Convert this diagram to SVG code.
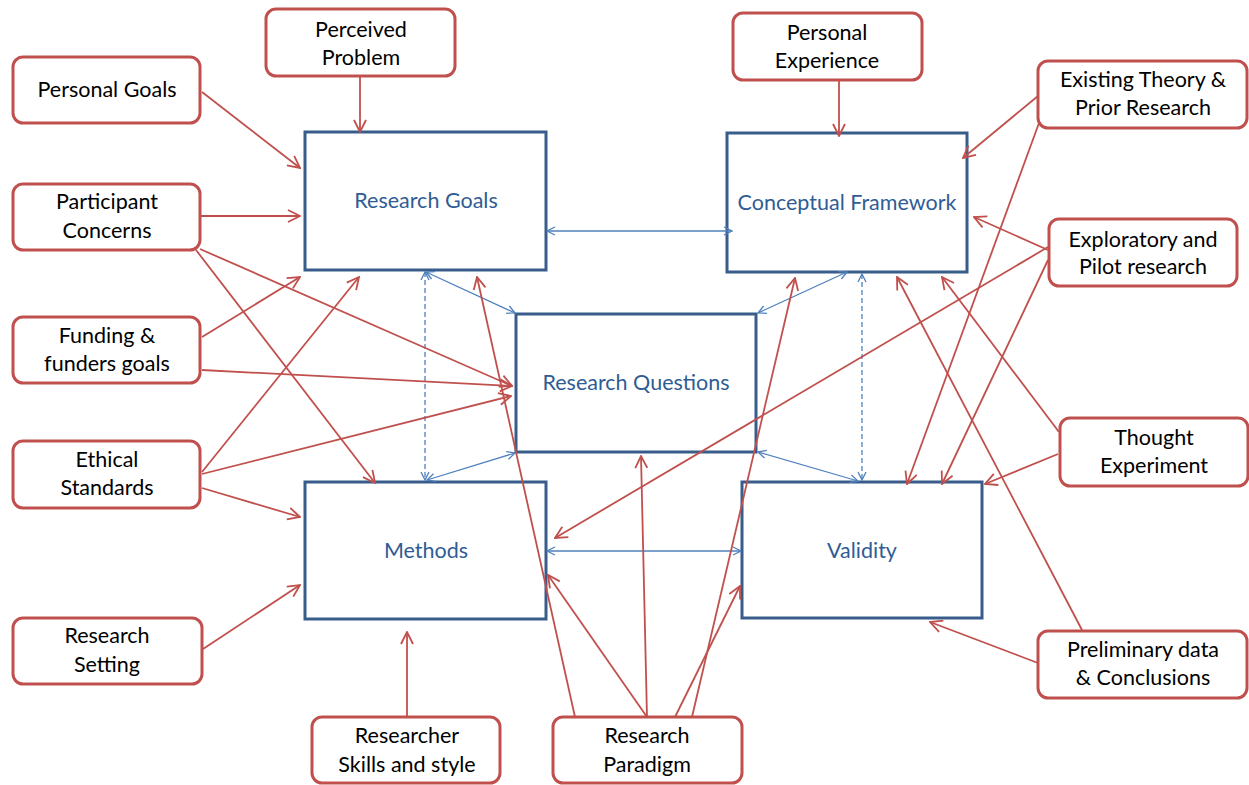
<svg xmlns="http://www.w3.org/2000/svg" width="1249" height="785" viewBox="0 0 1249 785">
  <style>
    .core rect { fill: #ffffff; stroke: #385D8A; stroke-width: 3; }
    .core text { font-family: Lato, "Liberation Sans", sans-serif; font-size: 21.5px; fill: #2F5C94; text-anchor: middle; }
    .src rect { fill: #ffffff; stroke: #C0504D; stroke-width: 3; }
    .src text { font-family: Lato, "Liberation Sans", sans-serif; font-size: 21.5px; fill: #000000; text-anchor: middle; }
    .red { stroke: #C0504D; stroke-width: 1.8; fill: none; marker-end: url(#redArrow); }
    .blue { stroke: #4F81BD; stroke-width: 1.3; fill: none; marker-start: url(#blueArrow); marker-end: url(#blueArrow); }
    .dash { stroke-dasharray: 5 3; }
  </style>
  <defs>
    <marker id="redArrow" viewBox="0 0 14 14" refX="13" refY="7" markerWidth="14" markerHeight="14" orient="auto" markerUnits="userSpaceOnUse">
      <path d="M1,1 L13,7 L1,13" fill="none" stroke="#C0504D" stroke-width="1.8"/>
    </marker>
    <marker id="blueArrow" viewBox="0 0 10 10" refX="9" refY="5" markerWidth="10" markerHeight="10" orient="auto-start-reverse" markerUnits="userSpaceOnUse">
      <path d="M1,1 L9,5 L1,9" fill="none" stroke="#4F81BD" stroke-width="1.3"/>
    </marker>
  </defs>
  <rect width="1249" height="785" fill="#ffffff"/>

  <!-- central components -->
  <g id="research-goals" class="core">
    <rect x="305" y="132" width="241" height="138"/>
    <text x="426" y="208">Research Goals</text>
  </g>
  <g id="conceptual-framework" class="core">
    <rect x="727" y="133" width="240" height="139"/>
    <text x="847" y="210">Conceptual Framework</text>
  </g>
  <g id="research-questions" class="core">
    <rect x="516" y="314" width="240" height="138"/>
    <text x="636" y="390">Research Questions</text>
  </g>
  <g id="methods" class="core">
    <rect x="305" y="482" width="241" height="137"/>
    <text x="426" y="558">Methods</text>
  </g>
  <g id="validity" class="core">
    <rect x="742" y="482" width="240" height="136"/>
    <text x="862" y="558">Validity</text>
  </g>

  <!-- contextual factors -->
  <g id="perceived-problem" class="src">
    <rect x="266" y="9" width="189" height="67" rx="10"/>
    <text x="361" y="37">Perceived</text>
    <text x="361" y="65">Problem</text>
  </g>
  <g id="personal-goals" class="src">
    <rect x="13" y="57" width="187" height="66" rx="10"/>
    <text x="107" y="97">Personal Goals</text>
  </g>
  <g id="personal-experience" class="src">
    <rect x="733" y="13" width="189" height="67" rx="10"/>
    <text x="827" y="40">Personal</text>
    <text x="827" y="68">Experience</text>
  </g>
  <g id="existing-theory" class="src">
    <rect x="1038" y="61" width="209" height="67" rx="10"/>
    <text x="1143" y="87">Existing Theory &amp;</text>
    <text x="1143" y="115">Prior Research</text>
  </g>
  <g id="participant-concerns" class="src">
    <rect x="13" y="184" width="187" height="66" rx="10"/>
    <text x="107" y="209">Participant</text>
    <text x="107" y="238">Concerns</text>
  </g>
  <g id="exploratory-research" class="src">
    <rect x="1049" y="219" width="188" height="67" rx="10"/>
    <text x="1143" y="247">Exploratory and</text>
    <text x="1143" y="274">Pilot research</text>
  </g>
  <g id="funding" class="src">
    <rect x="13" y="317" width="187" height="66" rx="10"/>
    <text x="107" y="343">Funding &amp;</text>
    <text x="107" y="371">funders goals</text>
  </g>
  <g id="ethical-standards" class="src">
    <rect x="13" y="441" width="187" height="67" rx="10"/>
    <text x="107" y="467">Ethical</text>
    <text x="107" y="495">Standards</text>
  </g>
  <g id="thought-experiment" class="src">
    <rect x="1060" y="418" width="188" height="68" rx="10"/>
    <text x="1154" y="445">Thought</text>
    <text x="1154" y="473">Experiment</text>
  </g>
  <g id="research-setting" class="src">
    <rect x="13" y="618" width="189" height="66" rx="10"/>
    <text x="107" y="643">Research</text>
    <text x="107" y="672">Setting</text>
  </g>
  <g id="preliminary-data" class="src">
    <rect x="1038" y="631" width="209" height="67" rx="10"/>
    <text x="1143" y="657">Preliminary data</text>
    <text x="1143" y="685">&amp; Conclusions</text>
  </g>
  <g id="researcher-skills" class="src">
    <rect x="312" y="717" width="188" height="66" rx="10"/>
    <text x="407" y="743">Researcher</text>
    <text x="407" y="772">Skills and style</text>
  </g>
  <g id="research-paradigm" class="src">
    <rect x="553" y="717" width="189" height="66" rx="10"/>
    <text x="647" y="743">Research</text>
    <text x="647" y="772">Paradigm</text>
  </g>

  <!-- connectors -->
  <g id="connectors">
    <!-- links between the central components -->
    <line class="blue" x1="547" y1="231" x2="732" y2="231"/>
    <line class="blue" x1="426" y1="272" x2="515" y2="313"/>
    <line class="blue dash" x1="425" y1="272" x2="425" y2="480"/>
    <line class="blue" x1="515" y1="453" x2="427" y2="480"/>
    <line class="blue" x1="847" y1="272" x2="758" y2="313"/>
    <line class="blue dash" x1="862" y1="274" x2="862" y2="480"/>
    <line class="blue" x1="758" y1="452" x2="858" y2="481"/>
    <line class="blue" x1="547" y1="551" x2="741" y2="551"/>

    <!-- influences from the surrounding factors -->
    <line class="red" x1="360" y1="76" x2="360" y2="132"/>
    <line class="red" x1="202" y1="92" x2="300" y2="168"/>
    <line class="red" x1="200" y1="216" x2="300" y2="216"/>
    <line class="red" x1="200" y1="249" x2="512" y2="386"/>
    <line class="red" x1="196" y1="250" x2="375" y2="483"/>
    <line class="red" x1="202" y1="337" x2="300" y2="277"/>
    <line class="red" x1="202" y1="370" x2="512" y2="386"/>
    <line class="red" x1="202" y1="472" x2="359" y2="277"/>
    <line class="red" x1="202" y1="474" x2="511" y2="396"/>
    <line class="red" x1="202" y1="488" x2="300" y2="517"/>
    <line class="red" x1="203" y1="649" x2="300" y2="585"/>
    <line class="red" x1="407" y1="717" x2="407" y2="632"/>
    <line class="red" x1="575" y1="717" x2="477" y2="277"/>
    <line class="red" x1="647" y1="717" x2="548" y2="575"/>
    <line class="red" x1="647" y1="717" x2="641" y2="456"/>
    <line class="red" x1="675" y1="717" x2="740" y2="586"/>
    <line class="red" x1="692" y1="717" x2="795" y2="278"/>
    <line class="red" x1="839" y1="80" x2="839" y2="136"/>
    <line class="red" x1="1038" y1="96" x2="963" y2="158"/>
    <line class="red" x1="1039" y1="123" x2="907" y2="484"/>
    <line class="red" x1="1048" y1="250" x2="974" y2="217"/>
    <line class="red" x1="1048" y1="247" x2="555" y2="538"/>
    <line class="red" x1="1048" y1="260" x2="942" y2="484"/>
    <line class="red" x1="1059" y1="432" x2="942" y2="277"/>
    <line class="red" x1="1058" y1="454" x2="985" y2="484"/>
    <line class="red" x1="1082" y1="630" x2="897" y2="277"/>
    <line class="red" x1="1038" y1="663" x2="930" y2="622"/>
  </g>
</svg>
